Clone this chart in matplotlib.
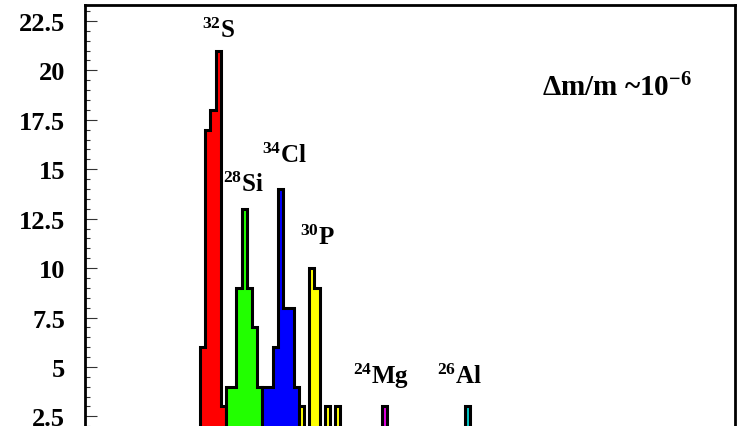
import numpy as np
import matplotlib
matplotlib.use("Agg")
import matplotlib.pyplot as plt
from matplotlib.ticker import MultipleLocator

plt.rcParams['font.family'] = ['Liberation Serif', 'DejaVu Serif']
plt.rcParams['font.weight'] = 'bold'
plt.rcParams['mathtext.fontset'] = 'custom'
plt.rcParams['mathtext.rm'] = 'Liberation Serif:bold'
plt.rcParams['mathtext.bf'] = 'Liberation Serif:bold'
plt.rcParams['mathtext.it'] = 'Liberation Serif:bold'
plt.rcParams['mathtext.default'] = 'rm'

# contagens por canal (canal = indice do bin)
s32_bins = [0, 1, 2, 3, 4]
s32_counts = [6, 17, 18, 21, 3]

si28_bins = [5, 6, 7, 8, 9, 10, 11]
si28_counts = [4, 4, 9, 13, 9, 7, 4]

cl34_bins = [12, 13, 14, 15, 16, 17, 18]
cl34_counts = [4, 4, 6, 14, 8, 8, 4]

p30_bins = [19, 20, 21, 22, 23, 24, 25, 26]
p30_counts = [3, 0, 10, 9, 0, 3, 0, 3]

mg24_bins = [35]
mg24_counts = [3]

al26_bins = [51]
al26_counts = [3]

series = [
    (s32_bins, s32_counts, '#ff0000'),
    (si28_bins, si28_counts, '#22ff00'),
    (cl34_bins, cl34_counts, '#0000ff'),
    (p30_bins, p30_counts, '#ffff00'),
    (mg24_bins, mg24_counts, '#e000e0'),
    (al26_bins, al26_counts, '#00c8c8'),
]

# rotulos: (texto, x, y) em coordenadas de dados
labels = [
    (r'$^{32}$S', 0.3, 21.7),
    (r'$^{28}$Si', 4.5, 13.9),
    (r'$^{34}$Cl', 11.9, 15.35),
    (r'$^{30}$P', 19.2, 11.2),
    (r'$^{24}$Mg', 29.4, 4.2),
    (r'$^{26}$Al', 45.5, 4.2),
]

fig = plt.figure(figsize=(7.44, 4.27), dpi=100)
# a figura original esta cortada embaixo: o eixo continua abaixo da borda
ax = fig.add_axes([0.1142, -0.0932, 0.8737, 1.0803])

for b, c, cor in series:
    b = np.array(b)
    edges = np.arange(b[0], b[-1] + 2)
    ax.hist(b + 0.5, bins=edges, weights=c, histtype='stepfilled',
            facecolor=cor, edgecolor='black', linewidth=2.2)

for txt, x, y in labels:
    ax.text(x, y, txt, fontsize=18, fontweight='bold', ha='left', va='baseline')

ax.text(65.7, 18.72, r'Δm/m ~10$^{-6}$', fontsize=21, fontweight='bold',
        ha='left', va='baseline')

ax.set_xlim(-22.12, 102.9)
ax.set_ylim(0, 23.33)

ax.yaxis.set_major_locator(MultipleLocator(2.5))
ax.yaxis.set_minor_locator(MultipleLocator(0.5))
ax.yaxis.set_major_formatter(plt.FuncFormatter(lambda v, p: ('%g' % v)))
ax.tick_params(axis='y', which='both', direction='in', left=True, right=False,
               labelsize=19, pad=14.4, color='#333333', width=0.8)
ax.tick_params(axis='y', which='major', length=8.6)
ax.tick_params(axis='y', which='minor', length=3.6)
ax.set_xticks([])
for lab in ax.get_yticklabels():
    lab.set_fontweight('bold')

for s in ax.spines.values():
    s.set_linewidth(2.0)

fig.savefig('out.png', dpi=100, facecolor='white')
